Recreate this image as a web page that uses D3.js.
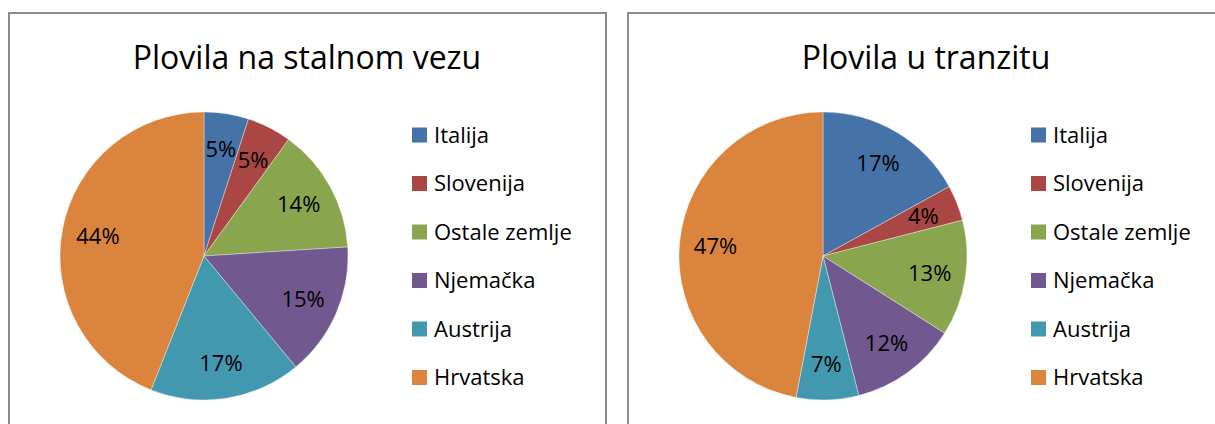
<!DOCTYPE html>
<html>
<head>
<meta charset="utf-8">
<script src="https://d3js.org/d3.v7.min.js"></script>
<style>
	body { margin: 0; background: #fff; }
	text { font-family: "Open Sans", "Noto Sans", sans-serif; fill: #000; }
	.title { font-size: 32px; }
	.legend text { font-size: 22px; }
	.pct { font-size: 22px; }
	.frame { fill: none; stroke: #8c8c8c; stroke-width: 2px; }
</style>
</head>
<body>
<svg width="1215" height="424"></svg>
<script>
var categories = ["Italija", "Slovenija", "Ostale zemlje", "Njemačka", "Austrija", "Hrvatska"];
var stalniVez = [5, 5, 14, 15, 17, 44];
var tranzit = [17, 4, 13, 12, 7, 47];
var titles = ["Plovila na stalnom vezu", "Plovila u tranzitu"];
var colors = ["#4572a7", "#aa4643", "#89a54e", "#71588f", "#4198af", "#db843d"];

var svg = d3.select("svg");
var color = d3.scaleOrdinal().domain(categories).range(colors);

var panels = [
	{x: 9, w: 597, title: titles[0], values: stalniVez},
	{x: 628, w: 600, title: titles[1], values: tranzit}
];

var radius = 144;
var pie = d3.pie().sort(null).value(function(d) { return d.v; });
var arc = d3.arc().innerRadius(0).outerRadius(radius);
var labelArc = d3.arc().innerRadius(radius * 0.75).outerRadius(radius * 0.75);

panels.forEach(function(p) {
	var g = svg.append("g").attr("transform", "translate(" + p.x + ",13)");

	g.append("rect").attr("class", "frame")
		.attr("width", p.w).attr("height", 430);

	g.append("text").attr("class", "title")
		.attr("x", 298).attr("y", 56)
		.attr("text-anchor", "middle")
		.text(p.title);

	var data = categories.map(function(c, i) { return {name: c, v: p.values[i]}; });
	var pg = g.append("g").attr("transform", "translate(195,243)");

	pg.selectAll("path")
		.data(pie(data))
		.enter().append("path")
		.attr("d", arc)
		.attr("fill", function(d) { return color(d.data.name); })
		.attr("stroke", "#fff")
		.attr("stroke-opacity", 0.6)
		.attr("stroke-width", 0.6);

	pg.selectAll(".pct")
		.data(pie(data))
		.enter().append("text")
		.attr("class", "pct")
		.attr("transform", function(d) { return "translate(" + labelArc.centroid(d) + ")"; })
		.attr("text-anchor", "middle")
		.attr("dy", "0.36em")
		.text(function(d) { return d.data.v + "%"; });

	var lg = g.append("g").attr("class", "legend").attr("transform", "translate(403,122)");
	var item = lg.selectAll("g")
		.data(categories)
		.enter().append("g")
		.attr("transform", function(d, i) { return "translate(0," + (i * 48.5) + ")"; });
	item.append("rect")
		.attr("y", -7.5).attr("width", 15).attr("height", 15)
		.attr("fill", function(d) { return color(d); });
	item.append("text")
		.attr("x", 22).attr("dy", "0.36em")
		.text(function(d) { return d; });
});
</script>
</body>
</html>
